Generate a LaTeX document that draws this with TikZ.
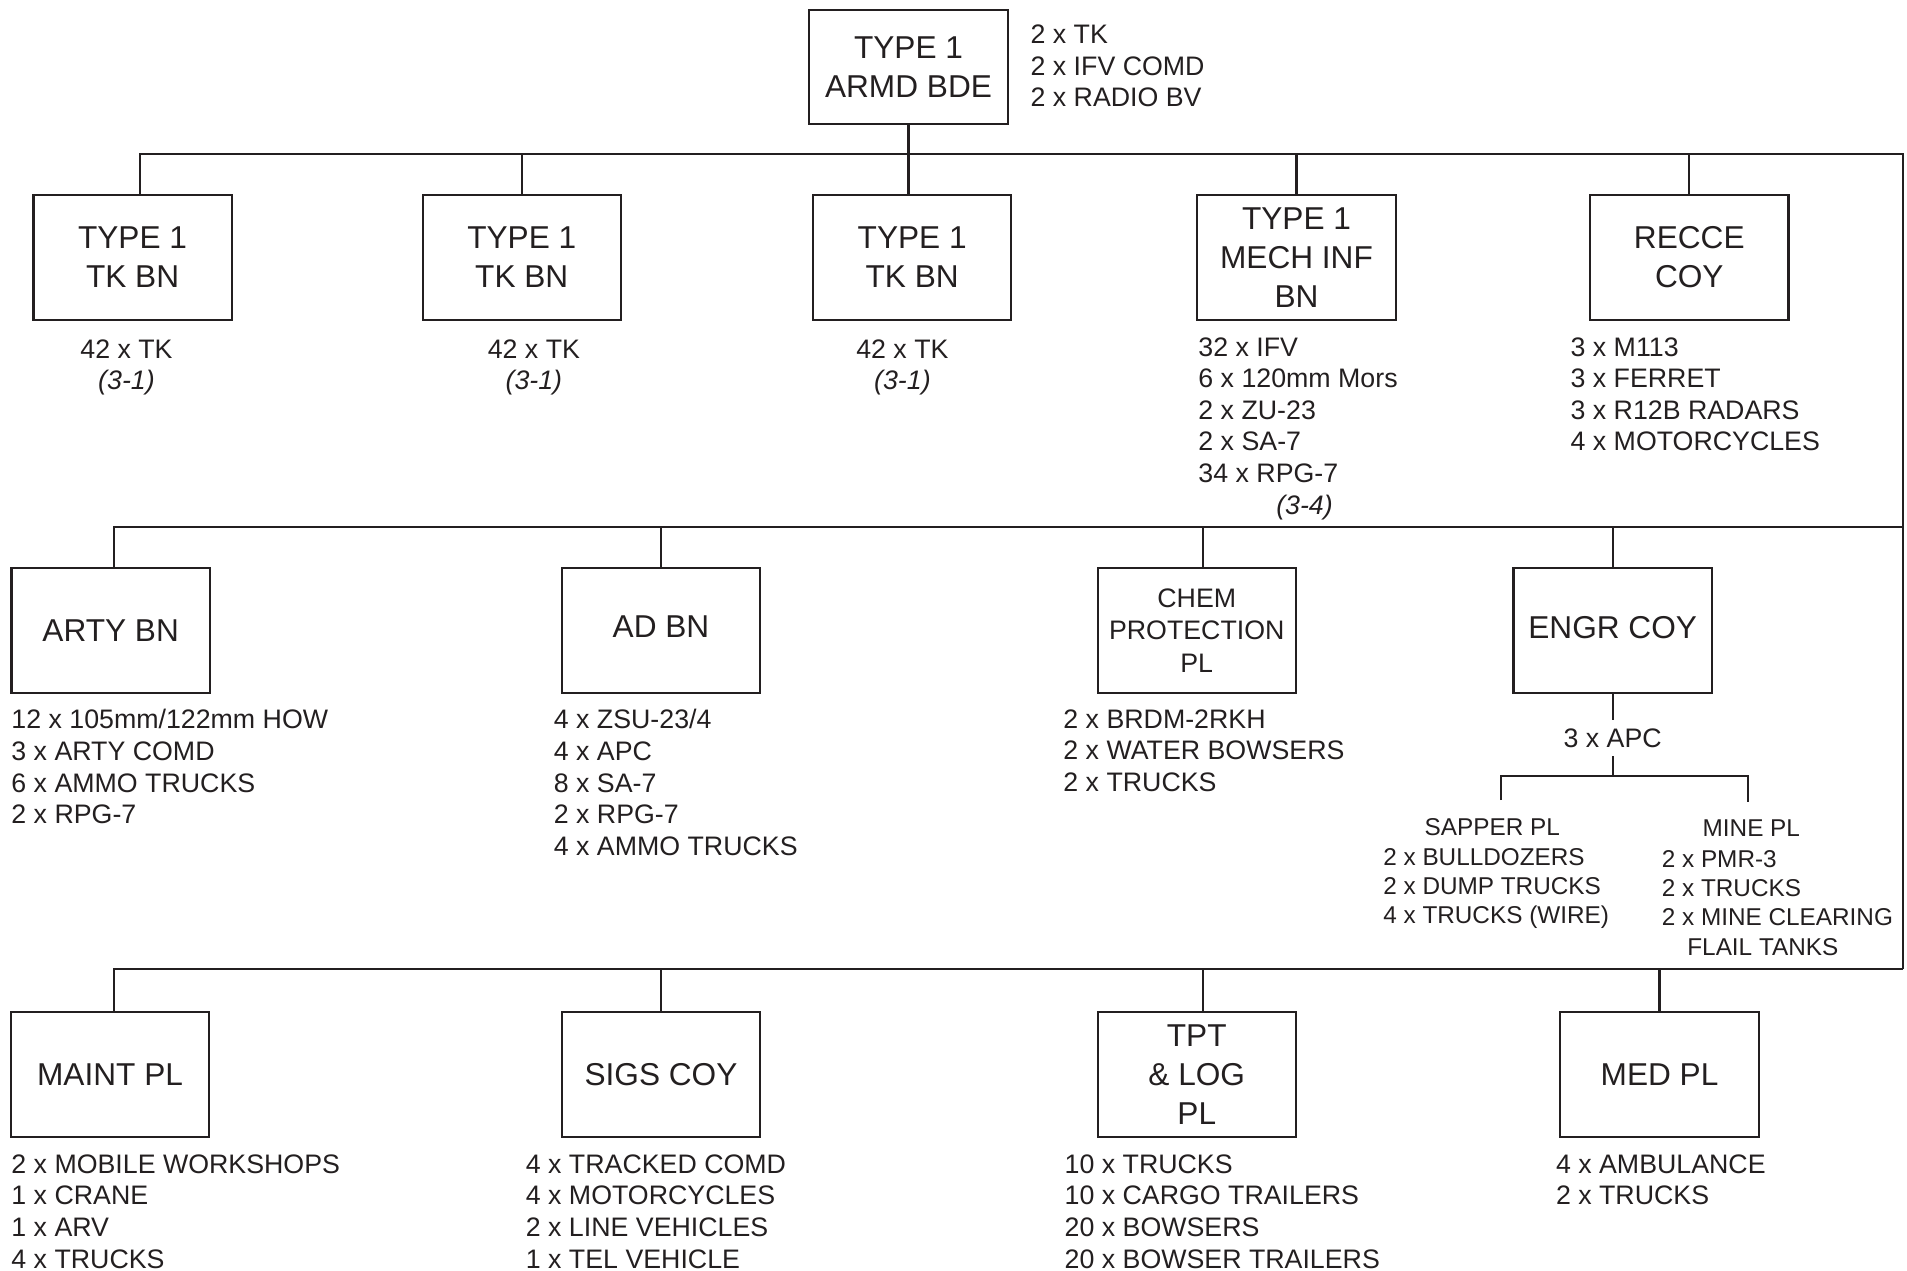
\documentclass[tikz,border=0pt]{standalone}
\usepackage{xcolor}
\usepackage{fontspec}
\setmainfont{Liberation Sans}
\usepackage{tikz}
\usetikzlibrary{positioning}
\definecolor{ink}{HTML}{231F20}

\begin{document}
\begin{tikzpicture}[x=0.5pt,y=-0.5pt,color=ink]
\tikzstyle{unitbox} = [draw,line width=0.9pt,minimum width=81.5pt,minimum height=51.5pt,inner sep=0pt,align=center,font=\fontsize{13}{16}\selectfont];
\tikzstyle{kit} = [anchor=north west,inner sep=0pt,align=left,font=\fontsize{11}{13}\selectfont];
\tikzstyle{plhead} = [inner sep=0pt,outer sep=7.5pt,font=\fontsize{10}{12}\selectfont];
\tikzstyle{plkit} = [anchor=north west,inner sep=0pt,align=left,font=\fontsize{10}{12}\selectfont];
\tikzstyle{orgline} = [line width=0.85pt];
\useasboundingbox (0,0) rectangle (1568,1045);

\node [unitbox,minimum height=47pt] (bde) at (747,55) {TYPE 1\\ARMD BDE};
\node [kit] (bdekit) at (847,20) {2 x TK\\2 x IFV COMD\\2 x RADIO BV};

\node [unitbox] (tk1) at (109,211.5) {TYPE 1\\TK BN};
\node [unitbox] (tk2) at (429,211.5) {TYPE 1\\TK BN};
\node [unitbox] (tk3) at (750,211.5) {TYPE 1\\TK BN};
\node [unitbox] (mech) at (1066,211.5) {TYPE 1\\MECH INF\\BN};
\node [unitbox] (recce) at (1389,211.5) {RECCE\\COY};

\node [kit,anchor=north,align=center,below=7.5pt of tk1,xshift=-2.5pt] (tk1kit) {42 x TK\\\textit{(3-1)}};
\node [kit,anchor=north,align=center,below=7.5pt of tk2,xshift=5pt] (tk2kit) {42 x TK\\\textit{(3-1)}};
\node [kit,anchor=north,align=center,below=7.5pt of tk3,xshift=-4pt] (tk3kit) {42 x TK\\\textit{(3-1)}};
\node [kit] (mechkit) at (985,277) {32 x IFV\\6 x 120mm Mors\\2 x ZU-23\\2 x SA-7\\34 x RPG-7\\\hspace*{32pt}\textit{(3-4)}};
\node [kit] (reccekit) at (1291,277) {3 x M113\\3 x FERRET\\3 x R12B RADARS\\4 x MOTORCYCLES};

\coordinate (e1) at (1565,127);
\coordinate (e2) at (1565,433);
\coordinate (e3) at (1565,797);
\draw [orgline] ([xshift=3pt]tk1.north) |- (e1) -- (e3);
\draw [orgline] (bde.south) -- (bde.south |- tk3.north);
\draw [orgline] (tk2.north) -- (tk2.north |- e1);
\draw [orgline] (mech.north) -- (mech.north |- e1);
\draw [orgline] (recce.north) -- (recce.north |- e1);

\node [unitbox] (arty) at (91,518.5) {ARTY BN};
\node [unitbox] (ad) at (543.5,518.5) {\raisebox{3pt}{AD BN}};
\node [unitbox,font=\fontsize{11}{13.5}\selectfont] (chem) at (984,518.5) {CHEM\\PROTECTION\\PL};
\node [unitbox] (engr) at (1326,518.5) {\raisebox{3pt}{ENGR COY}};

\draw [orgline] ([xshift=1.5pt]arty.north) |- (e2);
\draw [orgline] (ad.north) -- (ad.north |- e2);
\draw [orgline] ([xshift=2.5pt]chem.north) -- ([xshift=2.5pt]chem.north |- e2);
\draw [orgline] (engr.north) -- (engr.north |- e2);

\node [kit] (artykit) at (9,583) {12 x 105mm/122mm HOW\\3 x ARTY COMD\\6 x AMMO TRUCKS\\2 x RPG-7};
\node [kit] (adkit) at (455,583) {4 x ZSU-23/4\\4 x APC\\8 x SA-7\\2 x RPG-7\\4 x AMMO TRUCKS};
\node [kit] (chemkit) at (874,583) {2 x BRDM-2RKH\\2 x WATER BOWSERS\\2 x TRUCKS};

\node [font=\fontsize{11}{13}\selectfont] (apc) at (1326,607) {3 x APC};
\coordinate (fork) at (1326,638);
\node [plhead] (sap) at (1227,680) {SAPPER PL};
\node [plhead] (mine) at (1440,681) {MINE PL};
\draw [orgline] (engr.south) -- (apc.north);
\draw [orgline] (apc.south) -- (fork);
\draw [orgline] ([xshift=3.5pt]sap.north) |- (fork) -| ([xshift=-1.5pt]mine.north);
\node [plkit] (sapkit) at (1137,697) {2 x BULLDOZERS\\2 x DUMP TRUCKS\\4 x TRUCKS (WIRE)};
\node [plkit] (minekit) at (1366,699) {2 x PMR-3\\2 x TRUCKS\\2 x MINE CLEARING\\\hspace*{10.5pt}FLAIL TANKS};

\node [unitbox] (maint) at (90.5,883.5) {MAINT PL};
\node [unitbox] (sigs) at (543.5,883.5) {SIGS COY};
\node [unitbox] (tpt) at (984,883.5) {TPT\\\& LOG\\PL};
\node [unitbox] (med) at (1364.5,883.5) {MED PL};

\draw [orgline] ([xshift=1.5pt]maint.north) |- (e3);
\draw [orgline] (sigs.north) -- (sigs.north |- e3);
\draw [orgline] ([xshift=2.5pt]tpt.north) -- ([xshift=2.5pt]tpt.north |- e3);
\draw [orgline] (med.north) -- (med.north |- e3);

\node [kit] (maintkit) at (9,949) {2 x MOBILE WORKSHOPS\\1 x CRANE\\1 x ARV\\4 x TRUCKS};
\node [kit] (sigskit) at (432,949) {4 x TRACKED COMD\\4 x MOTORCYCLES\\2 x LINE VEHICLES\\1 x TEL VEHICLE};
\node [kit] (tptkit) at (875,949) {10 x TRUCKS\\10 x CARGO TRAILERS\\20 x BOWSERS\\20 x BOWSER TRAILERS};
\node [kit] (medkit) at (1279,949) {4 x AMBULANCE\\2 x TRUCKS};

\end{tikzpicture}
\end{document}
